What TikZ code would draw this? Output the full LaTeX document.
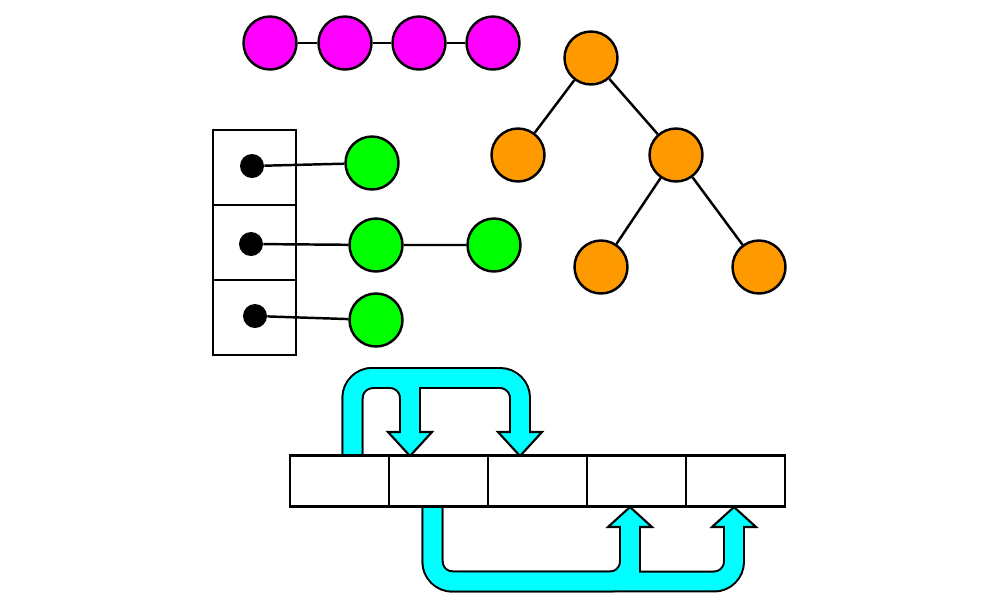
\documentclass[tikz,border=0pt]{standalone}
\definecolor{mag}{HTML}{FF00FF}
\definecolor{org}{HTML}{FF9900}
\definecolor{grn}{HTML}{00FF00}
\definecolor{cyn}{HTML}{00FFFF}
\begin{document}
\begin{tikzpicture}[x=0.02cm,y=-0.02cm,
  ball/.style={circle,draw=black,line width=1.4pt,minimum size=1.06cm,inner sep=0pt},
  mball/.style={ball,fill=mag},
  oball/.style={ball,fill=org},
  gball/.style={ball,fill=grn},
  link/.style={draw=black,line width=1.4pt},
  slot/.style={rectangle,draw=black,line width=1.6pt,minimum width=1.66cm,minimum height=1.5cm,inner sep=0pt},
  ptr/.style={circle,fill=black,inner sep=0pt,minimum size=0.48cm},
  cell/.style={rectangle,draw=black,line width=1.6pt,fill=white,minimum width=1.98cm,minimum height=1.02cm,inner sep=0pt},
  bandout/.style={draw=black,line width=12.5pt,rounded corners=0.4cm},
  bandin/.style={draw=cyn,line width=10.2pt,rounded corners=0.4cm},
  shaftout/.style={draw=black,line width=12.5pt},
  shaftin/.style={draw=cyn,line width=10.2pt},
  head/.style={draw=black,fill=cyn,line width=1.2pt,line join=miter}]
\useasboundingbox (0,0) rectangle (1000,600);

% magenta chain
\node[mball] (m1) at (270,43) {};
\node[mball] (m2) at (345,43) {};
\node[mball] (m3) at (419,43) {};
\node[mball] (m4) at (493,43) {};
\draw[link] (m1) -- (m2) (m2) -- (m3) (m3) -- (m4);

% orange tree
\node[oball] (t0) at (591,58) {};
\node[oball] (t1) at (518,155) {};
\node[oball] (t2) at (676,155) {};
\node[oball] (t3) at (601,267) {};
\node[oball] (t4) at (759,267) {};
\draw[link] (t0) -- (t1) (t0) -- (t2) (t2) -- (t3) (t2) -- (t4);

% hash table
\node[slot] (s1) at (254.5,167.5) {};
\node[slot] (s2) at (254.5,242.5) {};
\node[slot] (s3) at (254.5,317.5) {};
\node[ptr] (p1) at (252,166) {};
\node[ptr] (p2) at (251,244) {};
\node[ptr] (p3) at (255,316) {};
\node[gball] (g1) at (372,163) {};
\node[gball] (g2) at (376,245) {};
\node[gball] (g3) at (494,245) {};
\node[gball] (g4) at (376,320) {};
\draw[link] (p1) -- (g1) (p2) -- (g2) (g2) -- (g3) (p3) -- (g4);

% cyan bands
\coordinate (ua) at (352.5,456);
\coordinate (ub) at (410,432);
\coordinate (uc) at (520,432);
\coordinate (la) at (432.5,507);
\coordinate (lb) at (630,527);
\coordinate (lc) at (734,527);
\draw[bandout] (ua) -- (352.5,378) -- (520,378) -- (uc);
\draw[bandout] (ua) -- (352.5,378) -- (410,378) -- (ub);
\draw[shaftout] (410,378) -- (ub);
\draw[bandout] (la) -- (432.5,581.5) -- (734,581.5) -- (lc);
\draw[bandout] (la) -- (432.5,581.5) -- (630,581.5) -- (lb);
\draw[shaftout] (630,581.5) -- (lb);
\draw[head] (388,432) -- (432,432) -- (410,456) -- cycle;
\draw[head] (498,432) -- (542,432) -- (520,456) -- cycle;
\draw[head] (608,527) -- (652,527) -- (630,507) -- cycle;
\draw[head] (712,527) -- (756,527) -- (734,507) -- cycle;
\draw[bandin] (ua) -- (352.5,378) -- (520,378) -- (520,434);
\draw[bandin] (ua) -- (352.5,378) -- (410,378) -- (410,434);
\draw[shaftin] (410,378) -- (410,434);
\draw[bandin] (la) -- (432.5,581.5) -- (734,581.5) -- (734,525);
\draw[bandin] (la) -- (432.5,581.5) -- (630,581.5) -- (630,525);
\draw[shaftin] (630,581.5) -- (630,525);

% array
\node[cell] (c1) at (339.5,481) {};
\node[cell] (c2) at (438.5,481) {};
\node[cell] (c3) at (537.5,481) {};
\node[cell] (c4) at (636.5,481) {};
\node[cell] (c5) at (735.5,481) {};
\end{tikzpicture}
\end{document}
